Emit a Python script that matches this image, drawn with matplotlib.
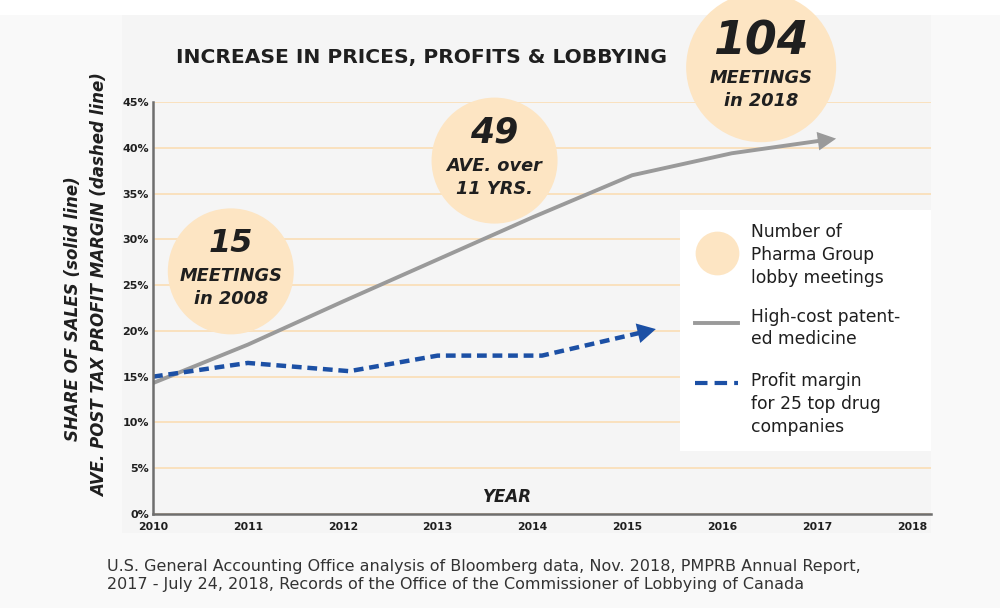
import matplotlib
matplotlib.use("Agg")
import matplotlib.pyplot as plt
from matplotlib.patches import Rectangle
from matplotlib.lines import Line2D

# ---------------- data ----------------
x_ticks = [2010, 2011, 2012, 2013, 2014, 2015, 2016, 2017, 2018]
y_ticks = [0, 5, 10, 15, 20, 25, 30, 35, 40, 45]
y_tick_labels = ["0%", "5%", "10%", "15%", "20%", "25%", "30%", "35%", "40%", "45%"]

# High-cost patented medicine share of sales (solid line)
sales_years = [2010, 2011, 2012, 2013, 2014, 2015.05, 2016.1, 2017.2]
sales_share = [14.3, 18.5, 23.2, 27.8, 32.4, 37.0, 39.4, 41.0]

# Average post-tax profit margin (dashed line)
margin_years = [2010, 2011, 2012.07, 2013, 2014.1, 2015.3]
margin_share = [15.0, 16.5, 15.6, 17.3, 17.3, 20.2]

# Lobby meeting bubbles (position in year / percent space)
bubble_x = [2010.82, 2013.60, 2016.41]
bubble_y = [26.5, 38.6, 48.8]
bubble_big = ["15", "49", "104"]
bubble_line1 = ["MEETINGS", "AVE. over", "MEETINGS"]
bubble_line2 = ["in 2008", "11 YRS.", "in 2018"]

title = "INCREASE IN PRICES, PROFITS & LOBBYING"
ylabel1 = "SHARE OF SALES (solid line)"
ylabel2 = "AVE. POST TAX PROFIT MARGIN (dashed line)"
xlabel = "YEAR"
legend_labels = ["Number of\nPharma Group\nlobby meetings",
                 "High-cost patent-\ned medicine",
                 "Profit margin\nfor 25 top drug\ncompanies"]
caption = ("U.S. General Accounting Office analysis of Bloomberg data, Nov. 2018, PMPRB Annual Report,\n"
           "2017 - July 24, 2018, Records of the Office of the Commissioner of Lobbying of Canada")

# ---------------- style ----------------
W, H = 1000, 608
BUBBLE = "#fde5c3"
GRID = "#fadfba"
GRAY = "#9a9a9a"
BLUE = "#1c50a5"
TXT = "#1f1f1f"

def fx(px):
    return px / W

def fy(py):
    return 1 - py / H

fig = plt.figure(figsize=(10, 6.08), dpi=100)
fig.patch.set_facecolor("#f9f9f9")
fig.add_artist(Rectangle((0, fy(15)), 1, 15 / H, transform=fig.transFigure,
                         facecolor="white", edgecolor="none", zorder=-3))
fig.add_artist(Rectangle((fx(122), fy(533)), fx(931) - fx(122), (533 - 15) / H,
                         transform=fig.transFigure, facecolor="#f5f5f5",
                         edgecolor="none", zorder=-2))

ax = fig.add_axes([fx(153), fy(514), fx(931) - fx(153), (514 - 102) / H])
ax.set_facecolor("none")
ax.set_xlim(2010, 2010 + (931 - 153) / 94.875)
ax.set_ylim(0, 45)

for v in y_ticks:
    ax.axhline(v, color=GRID, lw=1.3, zorder=1)

ax.set_xticks(x_ticks)
ax.set_xticklabels([str(x) for x in x_ticks], fontsize=7.8, fontweight="bold", color=TXT)
ax.set_yticks(y_ticks)
ax.set_yticklabels(y_tick_labels, fontsize=8, fontweight="bold", color=TXT)
ax.tick_params(length=0, pad=3)
ax.tick_params(axis="x", pad=6)
for s in ["top", "right"]:
    ax.spines[s].set_visible(False)
for s in ["left", "bottom"]:
    ax.spines[s].set_color("#6e6e6e")
    ax.spines[s].set_linewidth(1.8)
    ax.spines[s].set_zorder(6)

# bubbles
sizes = [(2 * 63 * 0.72) ** 2, (2 * 63 * 0.72) ** 2, (2 * 75 * 0.72) ** 2]
ax.scatter(bubble_x, bubble_y, s=sizes, color=BUBBLE, edgecolors="none",
           clip_on=False, zorder=2)
big_sizes = [23, 25, 33]
big_off = [28, 28, 25]
l1_off = [-5, -5, -11]
l2_off = [-28, -28, -34]
for i in range(3):
    ax.annotate(bubble_big[i], (bubble_x[i], bubble_y[i]), xytext=(0, big_off[i]),
                textcoords="offset pixels", ha="center", va="center",
                fontsize=big_sizes[i], fontweight="heavy", style="italic",
                color=TXT, zorder=3, annotation_clip=False)
    ax.annotate(bubble_line1[i], (bubble_x[i], bubble_y[i]), xytext=(0, l1_off[i]),
                textcoords="offset pixels", ha="center", va="center",
                fontsize=12.8, fontweight="bold", style="italic",
                color=TXT, zorder=3, annotation_clip=False)
    ax.annotate(bubble_line2[i], (bubble_x[i], bubble_y[i]), xytext=(0, l2_off[i]),
                textcoords="offset pixels", ha="center", va="center",
                fontsize=12.8, fontweight="bold", style="italic",
                color=TXT, zorder=3, annotation_clip=False)

# lines
ax.plot(sales_years[:-1] + [sales_years[-1] - 0.08], sales_share[:-1] + [sales_share[-1] - 0.1],
        color=GRAY, lw=2.8, solid_capstyle="butt", zorder=4)
ax.annotate("", xy=(sales_years[-1], sales_share[-1]),
            xytext=(sales_years[-2], sales_share[-2]),
            arrowprops=dict(arrowstyle="-|>,head_length=0.55,head_width=0.28",
                            mutation_scale=24, color=GRAY, lw=0, shrinkA=0, shrinkB=0),
            zorder=4)
ax.plot(margin_years[:-1] + [margin_years[-1] - 0.1], margin_share[:-1] + [margin_share[-1] - 0.25],
        color=BLUE, lw=3.2, linestyle=(0, (2.2, 1.3)), zorder=5)
ax.annotate("", xy=(margin_years[-1], margin_share[-1]),
            xytext=(margin_years[-2], margin_share[-2]),
            arrowprops=dict(arrowstyle="-|>,head_length=0.55,head_width=0.3",
                            mutation_scale=24, color=BLUE, lw=0, shrinkA=0, shrinkB=0),
            zorder=5)

# texts
fig.text(fx(422), fy(58), title, ha="center", va="center", fontsize=14.6,
         fontweight="bold", color=TXT)
fig.text(fx(73), fy(309), ylabel1, rotation=90, ha="center", va="center",
         fontsize=12, fontweight="bold", style="italic", color=TXT)
fig.text(fx(100), fy(285), ylabel2, rotation=90, ha="center", va="center",
         fontsize=12, fontweight="bold", style="italic", color=TXT)
fig.text(fx(507), fy(497), xlabel, ha="center", va="center", fontsize=12,
         fontweight="bold", style="italic", color=TXT)
fig.text(fx(107), fy(575), caption, ha="left", va="center", fontsize=11.5,
         color="#333333", linespacing=1.25)

# legend (manual)
fig.add_artist(Rectangle((fx(680), fy(451)), fx(931) - fx(680), (451 - 210) / H,
                         transform=fig.transFigure, facecolor="white",
                         edgecolor="none", zorder=5))
fig.add_artist(Line2D([fx(717)], [fy(253)], marker="o", ms=31.5, color=BUBBLE,
                      markeredgewidth=0, transform=fig.transFigure, zorder=6))
fig.add_artist(Line2D([fx(695), fx(738)], [fy(323), fy(323)], color=GRAY, lw=2.8,
                      transform=fig.transFigure, zorder=6))
fig.add_artist(Line2D([fx(695), fx(738)], [fy(383), fy(383)], color=BLUE, lw=3.0,
                      linestyle=(0, (3.0, 1.7)), transform=fig.transFigure, zorder=6))
legend_y = [255, 328, 404]
for lab, yy in zip(legend_labels, legend_y):
    fig.text(fx(751), fy(yy), lab, ha="left", va="center", fontsize=12.3,
             color=TXT, linespacing=1.35, zorder=7)

fig.savefig("out.png", dpi=100, facecolor=fig.get_facecolor())
